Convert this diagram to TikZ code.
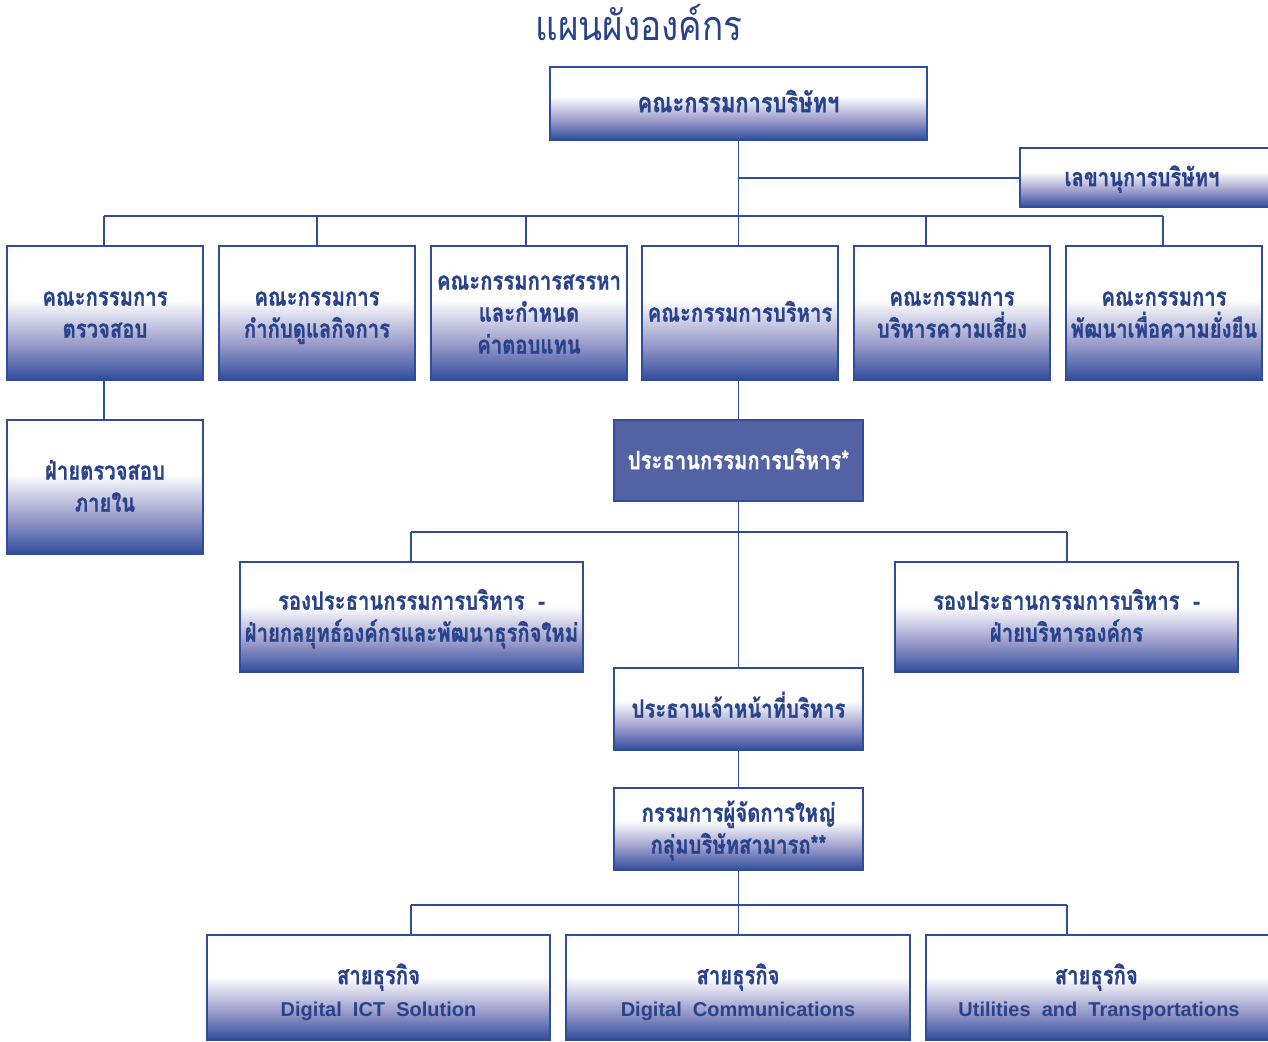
\documentclass[tikz,border=0pt]{standalone}
\usepackage{fontspec}
\setmainfont{Liberation Sans}
\newfontfamily\thai[Script=Thai, FakeStretch=0.8, BoldFeatures={FakeBold=0.8}]{Loma}
\newfontfamily\thaititle[Script=Thai, FakeStretch=0.85]{Loma}
\definecolor{navy}{RGB}{47,77,155}
\definecolor{txtblue}{RGB}{40,66,140}
\definecolor{midlav}{RGB}{150,152,200}
\definecolor{chairfill}{RGB}{82,98,162}
\pgfdeclareverticalshading{boxshade}{100bp}{color(0bp)=(navy); color(25bp)=(navy); color(38bp)=(midlav); color(55bp)=(white); color(100bp)=(white)}
\tikzset{
  bx/.style 2 args={minimum width=#1*0.75pt, minimum height=#2*0.75pt},
  card/.style={draw=navy, line width=1.1pt, shading=boxshade, inner sep=0pt, align=center,
    text=txtblue, font=\thai\bfseries\fontsize{19}{24}\selectfont},
  chair/.style={draw=navy, line width=1.1pt, fill=chairfill, inner sep=0pt, align=center,
    text=white, font=\thai\bfseries\fontsize{19}{24}\selectfont},
  lone/.style={text height=18pt, text depth=5pt},
  ltwo/.style={text height=42pt, text depth=5pt},
  lthree/.style={text height=66pt, text depth=5pt},
  lbiz/.style={text height=48pt, text depth=5pt},
  link/.style={draw=navy, line width=1.1pt},
}
\newcommand{\lat}[1]{{\rmfamily\bfseries\fontsize{15}{24}\selectfont #1}}
\begin{document}
\begin{tikzpicture}[x=0.75pt,y=-0.75pt]
\useasboundingbox (0,0) rectangle (1268,1042);
\begin{scope}
\clip (0,0) rectangle (1268,1042);
\node[text=txtblue, font=\thaititle\fontsize{31}{34}\selectfont] (title) at (639,22) {แผนผังองค์กร};

\node[card, lone, bx={377}{73}, font=\thai\bfseries\fontsize{20.5}{24}\selectfont] (board) at (738.5,103.5) {คณะกรรมการบริษัทฯ};
\node[card, lone, bx={252}{59}] (sec) at (1146,177.5) {\hspace*{-6pt}เลขานุการบริษัทฯ};

\node[card, ltwo, bx={196}{134}] (c1) at (105,313) {คณะกรรมการ\\ตรวจสอบ};
\node[card, ltwo, bx={196}{134}] (c2) at (317,313) {คณะกรรมการ\\กำกับดูแลกิจการ};
\node[card, lthree, bx={196}{134}] (c3) at (529,313) {คณะกรรมการสรรหา\\และกำหนด\\ค่าตอบแทน};
\node[card, lone, bx={196}{134}] (c4) at (740,313) {คณะกรรมการบริหาร};
\node[card, ltwo, bx={196}{134}] (c5) at (952,313) {คณะกรรมการ\\บริหารความเสี่ยง};
\node[card, ltwo, bx={196}{134}] (c6) at (1164,313) {คณะกรรมการ\\พัฒนาเพื่อความยั่งยืน};

\node[card, ltwo, bx={196}{134}] (audit) at (105,487) {ฝ่ายตรวจสอบ\\ภายใน};
\node[chair, lone, bx={249}{81}] (chair) at (738.5,460.5) {ประธานกรรมการบริหาร*};

\node[card, ltwo, bx={343}{110}] (vp1) at (411.5,617) {รองประธานกรรมการบริหาร\ \ -\\ฝ่ายกลยุทธ์องค์กรและพัฒนาธุรกิจใหม่};
\node[card, ltwo, bx={343}{110}] (vp2) at (1066.5,617) {รองประธานกรรมการบริหาร\ \ -\\ฝ่ายบริหารองค์กร};

\node[card, lone, bx={249}{82}] (ceo) at (738.5,709) {ประธานเจ้าหน้าที่บริหาร};
\node[card, ltwo, bx={249}{82}] (pres) at (738.5,829) {กรรมการผู้จัดการใหญ่\\กลุ่มบริษัทสามารถ**};

\node[card, lbiz, bx={343}{105}] (b1) at (378.5,987.5) {สายธุรกิจ\\\lat{Digital\ \ ICT\ \ Solution}};
\node[card, lbiz, bx={344}{105}] (b2) at (738,987.5) {สายธุรกิจ\\\lat{Digital\ \ Communications}};
\node[card, lbiz, bx={346}{105}] (b3) at (1099,987.5) {\hspace*{-4pt}สายธุรกิจ\\\lat{Utilities\ \ and\ \ Transportations}};

% connectors
\coordinate (busL) at (104,216);
\coordinate (busR) at (1163,216);
\coordinate (d3) at (526,216);
\coordinate (d5) at (926,216);
\coordinate (secj) at (738,178);
\draw[link] (busL) -- (busR);
\draw[link] (board.south) -- (c4.north -| board.south);
\draw[link] (secj) -- (sec.west |- secj);
\draw[link] (busL) -- (busL |- c1.north);
\draw[link] (c2.north |- busL) -- (c2.north);
\draw[link] (d3) -- (d3 |- c3.north);
\draw[link] (d5) -- (d5 |- c5.north);
\draw[link] (busR) -- (busR |- c6.north);
\draw[link] (c1.south -| busL) -- (audit.north -| busL);
\draw[link] (c4.south -| chair.north) -- (chair.north);

\coordinate (mbL) at (411,532);
\coordinate (mbR) at (1067,532);
\draw[link] (chair.south) -- (ceo.north);
\draw[link] (mbL) -- (mbR);
\draw[link] (mbL) -- (mbL |- vp1.north);
\draw[link] (mbR) -- (mbR |- vp2.north);
\draw[link] (ceo.south) -- (pres.north);

\coordinate (lbL) at (411,905);
\coordinate (lbR) at (1067,905);
\draw[link] (lbL) -- (lbR);
\draw[link] (pres.south) -- (b2.north -| pres.south);
\draw[link] (lbL) -- (lbL |- b1.north);
\draw[link] (lbR) -- (lbR |- b3.north);
\end{scope}
\end{tikzpicture}
\end{document}
